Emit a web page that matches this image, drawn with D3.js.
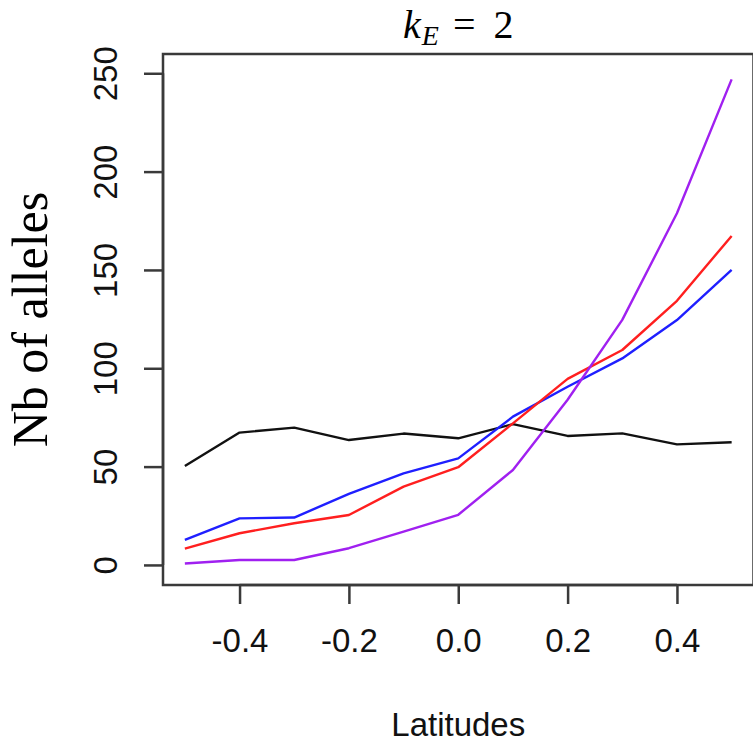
<!DOCTYPE html>
<html>
<head>
<meta charset="utf-8">
<script src="https://cdn.jsdelivr.net/npm/d3@7"></script>
<style>
  body { margin: 0; background: #fff; }
  svg { display: block; }
</style>
</head>
<body>
<div id="chart"></div>
<script>
// latitudes sampled along the gradient
var latitudes = [-0.5, -0.4, -0.3, -0.2, -0.1, 0.0, 0.1, 0.2, 0.3, 0.4, 0.5];
var xTicks = [-0.4, -0.2, 0.0, 0.2, 0.4];
var yTicks = [0, 50, 100, 150, 200, 250];

// number of alleles per series
var blackSeries = [50.3, 67.3, 69.8, 63.5, 66.8, 64.4, 71.6, 65.6, 66.9, 61.3, 62.4];
var blueSeries = [12.7, 23.7, 24.1, 36.1, 46.6, 54.2, 75.4, 90.6, 105, 124.5, 150];
var redSeries = [8.3, 16.1, 21.2, 25.4, 39.8, 49.7, 72.0, 94.6, 109.3, 134.3, 167.3];
var purpleSeries = [0.7, 2.5, 2.5, 8.5, 16.9, 25.5, 48.3, 84, 124.6, 178.8, 246.9];

var series = [
  {id: 'black', color: '#111111', values: blackSeries},
  {id: 'blue', color: '#1f1fff', values: blueSeries},
  {id: 'red', color: '#ff1f1f', values: redSeries},
  {id: 'purple', color: '#a020f0', values: purpleSeries}
];

var W = 753, H = 751;
var svg = d3.select('#chart').append('svg')
  .attr('width', W)
  .attr('height', H);

// R style usr extents (4% padding)
var x = d3.scaleLinear().domain([-0.54, 0.54]).range([163, 753.5]),
  y = d3.scaleLinear().domain([-10.2, 259.8]).range([585, 54]);

var sans = '"Liberation Sans", Arial, Helvetica, sans-serif',
  serif = '"Liberation Serif", "Times New Roman", serif';

var line = d3.line()
  .x(function(d, i) { return x(latitudes[i]); })
  .y(function(d) { return y(d); });

svg.selectAll('.series')
  .data(series)
  .enter().append('path')
  .attr('class', 'series')
  .attr('d', function(d) { return line(d.values); })
  .attr('fill', 'none')
  .attr('stroke', function(d) { return d.color; })
  .attr('stroke-width', 2.4)
  .attr('stroke-linejoin', 'round');

// box
svg.append('rect')
  .attr('x', x(-0.54))
  .attr('y', y(259.8))
  .attr('width', x(0.54) - x(-0.54))
  .attr('height', y(-10.2) - y(259.8))
  .attr('fill', 'none')
  .attr('stroke', '#3a3a3a')
  .attr('stroke-width', 2.5);

// x axis
var xAxis = svg.append('g')
  .attr('transform', 'translate(0,' + y(-10.2) + ')')
  .call(d3.axisBottom(x).tickValues(xTicks).tickSize(19).tickPadding(0)
    .tickFormat(d3.format('.1f')));
xAxis.select('.domain')
  .attr('d', 'M' + x(xTicks[0]) + ',0H' + x(xTicks[xTicks.length - 1]))
  .attr('stroke', '#3a3a3a').attr('stroke-width', 2.5);
xAxis.selectAll('.tick line').attr('stroke', '#3a3a3a').attr('stroke-width', 2.5);
xAxis.selectAll('.tick text')
  .attr('y', 67)
  .attr('dy', 0)
  .attr('fill', '#111')
  .style('font', '33px ' + sans)
  .text(function(d) { return d3.format('.1f')(d).replace('\u2212', '-'); });

// y axis
var yAxis = svg.append('g')
  .attr('transform', 'translate(' + x(-0.54) + ',0)')
  .call(d3.axisLeft(y).tickValues(yTicks).tickSize(19));
yAxis.select('.domain')
  .attr('d', 'M0,' + y(yTicks[0]) + 'V' + y(yTicks[yTicks.length - 1]))
  .attr('stroke', '#3a3a3a').attr('stroke-width', 2.5);
yAxis.selectAll('.tick line').attr('stroke', '#3a3a3a').attr('stroke-width', 2.5);
yAxis.selectAll('.tick text')
  .attr('x', null).attr('dy', null)
  .attr('text-anchor', 'middle')
  .attr('transform', 'translate(-46,0) rotate(-90)')
  .attr('fill', '#111')
  .style('font', '33px ' + sans);

// axis titles
svg.append('text')
  .attr('x', (x(-0.54) + x(0.54)) / 2)
  .attr('y', 736)
  .attr('text-anchor', 'middle')
  .attr('fill', '#111')
  .style('font', '33px ' + sans)
  .text('Latitudes');

svg.append('text')
  .attr('transform', 'translate(47,' + (y(-10.2) + y(259.8)) / 2 + ') rotate(-90)')
  .attr('text-anchor', 'middle')
  .attr('fill', '#000')
  .style('font', '50px ' + serif)
  .text('Nb of alleles');

// title k_E = 2
var title = svg.append('text')
  .attr('x', (x(-0.54) + x(0.54)) / 2)
  .attr('y', 38)
  .attr('text-anchor', 'middle')
  .attr('fill', '#000')
  .style('font-family', serif)
  .style('font-size', '40px');
title.append('tspan').style('font-style', 'italic').text('k');
title.append('tspan').style('font-style', 'italic').style('font-size', '28px')
  .attr('dy', 7).attr('dx', 1).text('E');
title.append('tspan').attr('dy', -7).attr('dx', 14).text('=');
title.append('tspan').attr('dx', 18).text('2');
</script>
</body>
</html>
